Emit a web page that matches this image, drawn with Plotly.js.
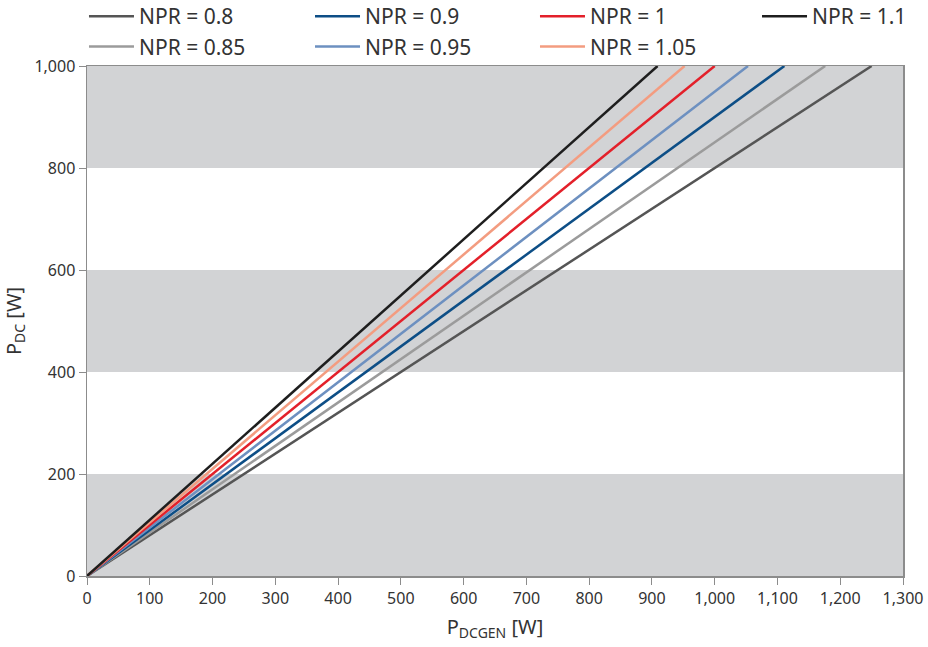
<!DOCTYPE html>
<html>
<head>
<meta charset="utf-8">
<script src="https://cdn.plot.ly/plotly-3.0.1.min.js"></script>
<style>html,body{margin:0;padding:0;background:#fff;}#chart{width:928px;height:647px;}</style>
</head>
<body>
<div id="chart"></div>
<script>
// Series names
const seriesNames = ["NPR = 0.8", "NPR = 0.85", "NPR = 0.9", "NPR = 0.95", "NPR = 1", "NPR = 1.05", "NPR = 1.1"];
// Line endpoints: start at origin, end at P_DC = 1000 W
const xStart = [0, 0, 0, 0, 0, 0, 0];
const yStart = [0, 0, 0, 0, 0, 0, 0];
const xEnd = [1250, 1176, 1111, 1053, 1000, 952, 909];
const yEnd = [1000, 1000, 1000, 1000, 1000, 1000, 1000];
const seriesColors = ["#555555", "#9b9b9b", "#0d4e86", "#6d90c0", "#e3202a", "#f39c80", "#1e1e1e"];
const legendColumn = ["legend", "legend", "legend2", "legend2", "legend3", "legend3", "legend4"];
const xTicks = [0,100,200,300,400,500,600,700,800,900,1000,1100,1200,1300];
const yTicks = [0,200,400,600,800,1000];
const bands = [[0,200],[400,600],[800,1000]];

const traces = seriesNames.map((n,i)=>({
  type:'scatter', mode:'lines', name:n, legend:legendColumn[i],
  x:[xStart[i], xEnd[i]], y:[yStart[i], yEnd[i]],
  line:{color:seriesColors[i], width:2.5},
  hoverinfo:'skip'
}));
const shapes = bands.map(b=>({type:'rect', xref:'paper', yref:'y', x0:0, x1:1, y0:b[0], y1:b[1], fillcolor:'#d2d3d5', line:{width:0}, layer:'below'}));
const font = {family:'Noto Sans, sans-serif', color:'#333333'};
const legFont = {family:font.family, size:21, color:'#333333'};
function leg(xp){ return {orientation:'v', x:xp, xanchor:'left', y:1.137, yanchor:'top', font:legFont, tracegroupgap:0, itemwidth:45, bgcolor:'rgba(0,0,0,0)'}; }
const layout = {
  width:928, height:647,
  margin:{l:87, r:25, t:66, b:71, autoexpand:false},
  paper_bgcolor:'#ffffff', plot_bgcolor:'#ffffff',
  font:font,
  showlegend:true,
  legend:leg(-0.0037), legend2:leg(0.2733), legend3:leg(0.5490), legend4:leg(0.8211),
  shapes:shapes,
  xaxis:{range:[0,1300], tickvals:xTicks, tickformat:',', showgrid:false, zeroline:false, showline:true, mirror:true, linecolor:'#8c8c8c', linewidth:1.5, ticks:'outside', ticklen:7, tickcolor:'#8c8c8c', tickfont:{size:16, color:'#333333'},
    title:{text:'P<sub>DCGEN</sub> [W]', font:{size:20, color:'#333333'}, standoff:12}},
  yaxis:{range:[0,1000], tickvals:yTicks, tickformat:',', showgrid:false, zeroline:false, showline:true, mirror:true, linecolor:'#8c8c8c', linewidth:1.5, ticks:'outside', ticklen:7, tickcolor:'#8c8c8c', tickfont:{size:16, color:'#333333'},
    title:{text:'P<sub>DC</sub> [W]', font:{size:20, color:'#333333'}, standoff:14}}
};
Plotly.newPlot('chart', traces, layout, {displayModeBar:false, staticPlot:true});
</script>
</body>
</html>
